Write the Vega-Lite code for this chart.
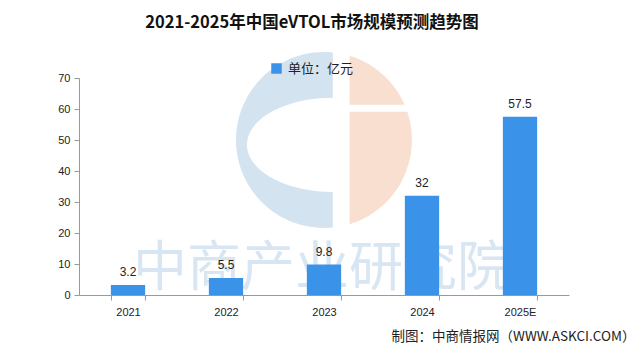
{
  "$schema": "https://vega.github.io/schema/vega-lite/v6.json",
  "autosize": "none",
  "width": 490,
  "height": 217,
  "padding": {"left": 79, "top": 78, "right": 71, "bottom": 63},
  "background": "white",
  "title": {
    "text": "2021-2025年中国eVTOL市场规模预测趋势图",
    "font": "Noto Sans CJK SC",
    "fontSize": 16.5,
    "fontWeight": "bold",
    "color": "#111111",
    "anchor": "middle",
    "dx": -12,
    "offset": 20
  },
  "datasets": {
    "bars": [
      {"year": "2021", "value": 3.2, "label": "3.2", "unit": "单位：亿元"},
      {"year": "2022", "value": 5.5, "label": "5.5", "unit": "单位：亿元"},
      {"year": "2023", "value": 9.8, "label": "9.8", "unit": "单位：亿元"},
      {"year": "2024", "value": 32, "label": "32", "unit": "单位：亿元"},
      {"year": "2025E", "value": 57.5, "label": "57.5", "unit": "单位：亿元"}
    ],
    "mark": [{"text": "中商产业研究院"}],
    "logo": [{"name": "logo"}]
  },
  "config": {
    "view": {"stroke": null},
    "font": "Noto Sans CJK SC",
    "axisX": {
      "labelAngle": 0, "labelFont": "Liberation Sans", "labelFontSize": 11, "labelColor": "#222222",
      "labelPadding": 6, "domainColor": "#999999", "tickColor": "#999999", "tickSize": 5,
      "tickBand": "extent",
      "titleFont": "Noto Sans CJK SC", "titleFontSize": 13.5, "titleFontWeight": "normal", "titleColor": "#222222",
      "titleAnchor": "end", "titleAlign": "right", "titleX": 556, "titleY": 41, "titleBaseline": "middle"
    },
    "axisY": {
      "grid": false, "labelFont": "Liberation Sans", "labelFontSize": 11, "labelColor": "#222222",
      "domainColor": "#999999", "tickColor": "#999999", "tickSize": 5, "labelPadding": 4
    }
  },
  "layer": [
    {
      "data": {"name": "logo"},
      "mark": {"type": "point", "filled": true, "color": "#d3e3f0", "opacity": 1, "strokeWidth": 0, "size": 30976, "dx": -2,
        "shape": "M 0.1 -0.995 A 1 1 0 1 0 0.1 0.995 L 0.1 0.59 A 0.975 0.535 0 0 1 0.1 -0.48 Z"},
      "encoding": {
        "x": {"datum": "2023", "type": "nominal", "scale": {"domain": ["2021", "2022", "2023", "2024", "2025E"], "paddingInner": 0.65, "paddingOuter": 0.325}, "axis": {"title": "制图：中商情报网（WWW.ASKCI.COM）"}},
        "y": {"datum": 50, "type": "quantitative", "scale": {"domain": [0, 70]}, "axis": {"title": null, "values": [0, 10, 20, 30, 40, 50, 60, 70]}}
      }
    },
    {
      "data": {"name": "logo"},
      "mark": {"type": "point", "filled": true, "color": "#f8dfcf", "opacity": 1, "strokeWidth": 0, "size": 30976, "dx": -2,
        "shape": "M 0.29 -0.957 A 1 1 0 0 1 0.917 -0.4 L 0.29 -0.4 Z M 0.29 -0.32 L 0.947 -0.32 A 1 1 0 0 1 0.29 0.957 Z"},
      "encoding": {
        "x": {"datum": "2023", "type": "nominal", "scale": {"domain": ["2021", "2022", "2023", "2024", "2025E"], "paddingInner": 0.65, "paddingOuter": 0.325}, "axis": {"title": "制图：中商情报网（WWW.ASKCI.COM）"}},
        "y": {"datum": 50, "type": "quantitative", "scale": {"domain": [0, 70]}, "axis": {"title": null, "values": [0, 10, 20, 30, 40, 50, 60, 70]}}
      }
    },
    {
      "data": {"name": "mark"},
      "mark": {"type": "text", "font": "Noto Sans CJK SC", "fontSize": 54, "fontWeight": "normal", "color": "#b9d2ea", "opacity": 0.55, "baseline": "middle", "align": "center", "dx": -2},
      "encoding": {
        "x": {"datum": "2023", "type": "nominal", "scale": {"domain": ["2021", "2022", "2023", "2024", "2025E"], "paddingInner": 0.65, "paddingOuter": 0.325}, "axis": {"title": "制图：中商情报网（WWW.ASKCI.COM）"}},
        "y": {"datum": 8, "type": "quantitative", "scale": {"domain": [0, 70]}, "axis": {"title": null, "values": [0, 10, 20, 30, 40, 50, 60, 70]}},
        "text": {"field": "text"}
      }
    },
    {
      "data": {"name": "bars"},
      "mark": {"type": "bar", "color": "#3a93e8"},
      "encoding": {
        "x": {"field": "year", "type": "nominal", "scale": {"domain": ["2021", "2022", "2023", "2024", "2025E"], "paddingInner": 0.65, "paddingOuter": 0.325}, "axis": {"title": "制图：中商情报网（WWW.ASKCI.COM）"}},
        "y": {"field": "value", "type": "quantitative", "scale": {"domain": [0, 70]}, "axis": {"title": null, "values": [0, 10, 20, 30, 40, 50, 60, 70]}},
        "color": {
          "field": "unit", "type": "nominal",
          "scale": {"range": ["#3a93e8"]},
          "legend": {
            "title": null, "orient": "none", "legendX": 191, "legendY": -16,
            "symbolType": "square", "symbolSize": 110, "symbolStrokeWidth": 0,
            "labelFont": "Noto Sans CJK SC", "labelFontSize": 13, "labelColor": "#222222", "labelOffset": 5
          }
        }
      }
    },
    {
      "data": {"name": "bars"},
      "mark": {"type": "text", "baseline": "bottom", "dy": -6, "font": "Liberation Sans", "fontSize": 12, "color": "#222222"},
      "encoding": {
        "x": {"field": "year", "type": "nominal", "scale": {"domain": ["2021", "2022", "2023", "2024", "2025E"], "paddingInner": 0.65, "paddingOuter": 0.325}, "axis": {"title": "制图：中商情报网（WWW.ASKCI.COM）"}},
        "y": {"field": "value", "type": "quantitative", "scale": {"domain": [0, 70]}, "axis": {"title": null, "values": [0, 10, 20, 30, 40, 50, 60, 70]}},
        "text": {"field": "label"}
      }
    }
  ]
}
